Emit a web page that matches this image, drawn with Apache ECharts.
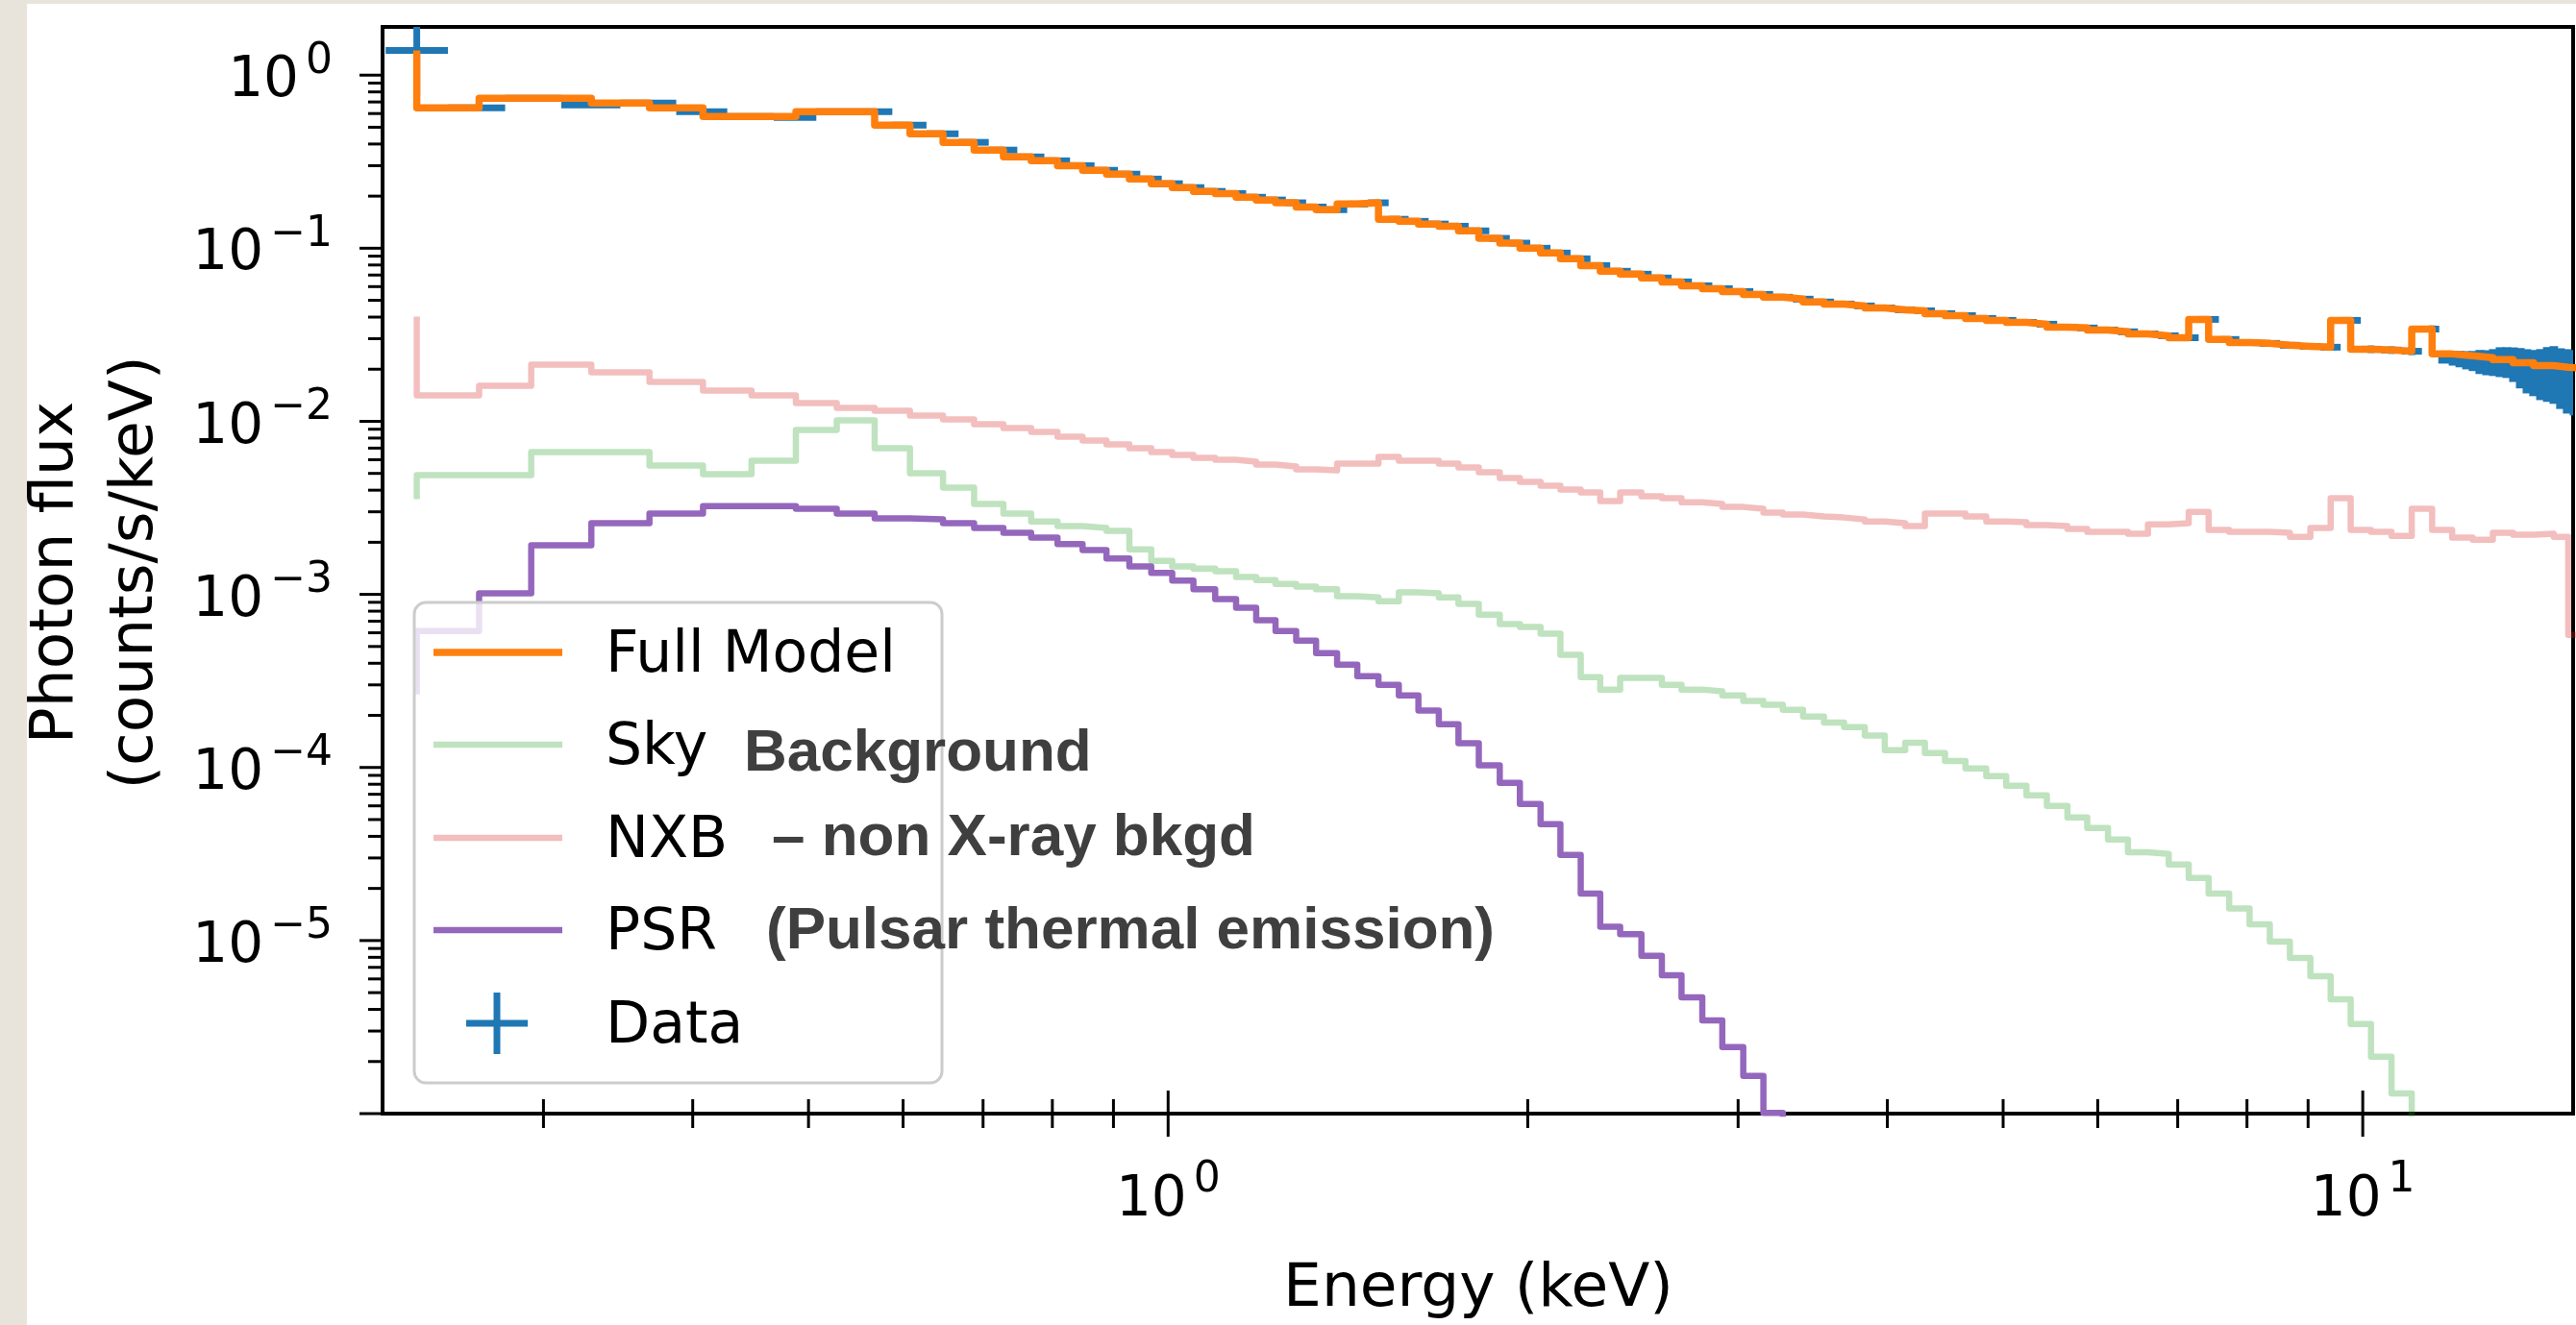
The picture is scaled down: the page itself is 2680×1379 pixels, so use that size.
<!DOCTYPE html>
<html><head><meta charset="utf-8">
<script src="https://cdn.jsdelivr.net/npm/echarts@6/dist/echarts.min.js"></script>
<style>
html,body{margin:0;padding:0;width:2680px;height:1379px;overflow:hidden;background:#e8e4db;}
#paper{position:absolute;left:28px;top:4px;right:0;bottom:0;background:#fff;}
#chart{position:absolute;left:0;top:0;width:2680px;height:1379px;}
</style></head><body>
<div id="paper"></div><div id="chart"></div>
<script>
// ---- model energy grid (keV): step positions of the binned model curves
const energy = [0.235,0.265,0.293,0.329,0.368,0.408,0.448,0.488,0.528,0.568,0.608,0.648,0.688,0.728,0.768,0.808,0.848,0.888,0.928,0.968,1.008,1.050,1.095,1.14,1.185,1.23,1.28,1.33,1.385,1.44,1.50,1.56,1.62,1.685,1.75,1.82,1.895,1.97,2.05,2.13,2.215,2.30,2.39,2.49,2.59,2.69,2.80,2.91,3.03,3.15,3.27,3.40,3.54,3.68,3.83,3.98,4.14,4.30,4.47,4.65,4.84,5.03,5.23,5.44,5.66,5.88,6.12,6.36,6.61,6.88,7.15,7.43,7.73,8.04,8.36,8.69,9.04,9.40,9.77,10.16,10.57,10.99,11.43,11.88,12.36,12.85,13.36,13.90,14.45,14.86,15.6];
// ---- series values (counts/s/keV)
const fullModel = [1.39,0.647,0.736,0.736,0.690,0.647,0.577,0.577,0.615,0.615,0.514,0.458,0.409,0.369,0.337,0.320,0.300,0.282,0.268,0.251,0.236,0.224,0.213,0.207,0.197,0.190,0.183,0.173,0.167,0.180,0.183,0.147,0.143,0.138,0.134,0.126,0.114,0.107,0.100,0.0938,0.0869,0.0794,0.0736,0.0708,0.0673,0.0639,0.0607,0.0584,0.0562,0.0541,0.0521,0.0508,0.0489,0.0476,0.0464,0.0452,0.0441,0.0435,0.0419,0.0408,0.0393,0.0383,0.0373,0.0364,0.0350,0.0346,0.0337,0.0329,0.0320,0.0312,0.0304,0.0388,0.0297,0.0285,0.0282,0.0275,0.0271,0.0268,0.0383,0.0261,0.0258,0.0254,0.0341,0.0245,0.0239,0.0233,0.0227,0.0218,0.0210,0.0205,0.0202];
const skyBkg = [0.00355,0.00489,0.00489,0.00664,0.00664,0.00555,0.00495,0.00592,0.00891,0.01013,0.00699,0.00501,0.00414,0.00333,0.00293,0.00264,0.00248,0.00242,0.00233,0.00182,0.00156,0.00145,0.00141,0.00136,0.00126,0.00121,0.00115,0.00111,0.00107,0.000975,0.000962,0.000914,0.001026,0.001013,0.000962,0.000880,0.000764,0.000673,0.000648,0.000592,0.000447,0.000333,0.000282,0.000329,0.000329,0.000300,0.000282,0.000275,0.000261,0.000242,0.000230,0.000215,0.000197,0.000182,0.000171,0.000153,0.000126,0.000139,0.000121,0.000109,9.87e-5,8.91e-5,7.84e-5,6.90e-5,5.99e-5,5.14e-5,4.47e-5,3.83e-5,3.24e-5,3.16e-5,2.75e-5,2.30e-5,1.87e-5,1.53e-5,1.24e-5,9.87e-6,7.94e-6,6.23e-6,4.58e-6,3.29e-6,2.13e-6,1.31e-6,7.17e-7,3.55e-7];
const nxb = [0.0403,0.01413,0.01605,0.02128,0.01920,0.01690,0.01506,0.01413,0.01275,0.01196,0.01151,0.01080,0.01026,0.00962,0.00914,0.00869,0.00815,0.00774,0.00736,0.00699,0.00664,0.00639,0.00615,0.00599,0.00584,0.00562,0.00548,0.00528,0.00521,0.00569,0.00569,0.00623,0.00592,0.00592,0.00569,0.00541,0.00508,0.00470,0.00447,0.00424,0.00403,0.00388,0.00346,0.00388,0.00369,0.00359,0.00341,0.00333,0.00320,0.00312,0.00297,0.00289,0.00282,0.00278,0.00271,0.00264,0.00258,0.00248,0.00293,0.00293,0.00282,0.00264,0.00261,0.00251,0.00248,0.00239,0.00230,0.00230,0.00224,0.00254,0.00258,0.00300,0.00236,0.00230,0.00230,0.00227,0.00215,0.00242,0.00359,0.00236,0.00230,0.00218,0.00312,0.00236,0.00213,0.00207,0.00227,0.00221,0.00224,0.00215,0.000584];
const psr = [0.000264,0.000615,0.001013,0.00192,0.00258,0.00293,0.00324,0.00324,0.00312,0.00293,0.00275,0.00271,0.00258,0.00242,0.00227,0.00213,0.00195,0.00180,0.00161,0.00145,0.00133,0.00120,0.00107,0.000938,0.000836,0.000708,0.000615,0.000541,0.000458,0.000393,0.000337,0.000300,0.000261,0.000213,0.000178,0.000138,0.000103,8.15e-5,6.15e-5,4.70e-5,3.12e-5,1.87e-5,1.20e-5,1.09e-5,8.15e-6,6.31e-6,4.70e-6,3.46e-6,2.42e-6,1.65e-6,1.01e-6,5.92e-7,3.12e-7];
// ---- observed data points (bin centres, flux, fractional error)
const dataEnergy = [0.235,0.265,0.293,0.329,0.368,0.408,0.448,0.488,0.528,0.568,0.608,0.648,0.688,0.728,0.768,0.808,0.848,0.888,0.928,0.968,1.008,1.050,1.095,1.14,1.185,1.23,1.28,1.33,1.385,1.44,1.50,1.56,1.62,1.685,1.75,1.82,1.895,1.97,2.05,2.13,2.215,2.30,2.39,2.49,2.59,2.69,2.80,2.91,3.03,3.15,3.27,3.40,3.54,3.68,3.83,3.98,4.14,4.30,4.47,4.65,4.84,5.03,5.23,5.44,5.66,5.88,6.12,6.36,6.61,6.88,7.15,7.43,7.73,8.04,8.36,8.69,9.04,9.40,9.77,10.16,10.57,10.99,11.43,
  11.75,11.90,12.06,12.21,12.37,12.53,12.70,12.86,13.03,13.20,13.37,13.55,13.72,13.90,14.09,14.27,14.45,14.64,14.83,15.03];
const dataFlux = [1.39,0.647,0.736,0.673,0.690,0.615,0.577,0.569,0.615,0.615,0.514,0.458,0.409,0.369,0.337,0.320,0.300,0.282,0.268,0.251,0.236,0.224,0.213,0.207,0.197,0.190,0.183,0.173,0.167,0.180,0.183,0.147,0.143,0.138,0.134,0.126,0.114,0.107,0.100,0.0938,0.0869,0.0794,0.0736,0.0708,0.0673,0.0639,0.0607,0.0584,0.0562,0.0541,0.0521,0.0508,0.0489,0.0476,0.0464,0.0452,0.0441,0.0435,0.0419,0.0408,0.0393,0.0383,0.0373,0.0364,0.0350,0.0346,0.0337,0.0329,0.0320,0.0312,0.0304,0.0388,0.0297,0.0285,0.0282,0.0275,0.0271,0.0268,0.0383,0.0261,0.0258,0.0254,0.0341,
  0.0235,0.0232,0.0230,0.0227,0.0225,0.0223,0.0221,0.0222,0.0224,0.0223,0.0218,0.0210,0.0203,0.0199,0.0197,0.0199,0.0199,0.0191,0.0186,0.0183];
const dataRelErr = [0.45,0.02,0.02,0.02,0.02,0.02,0.02,0.02,0.02,0.02,0.02,0.02,0.02,0.02,0.02,0.02,0.02,0.02,0.02,0.02,0.02,0.02,0.02,0.02,0.02,0.02,0.02,0.02,0.02,0.02,0.02,0.03,0.03,0.03,0.03,0.03,0.03,0.03,0.03,0.03,0.03,0.03,0.03,0.03,0.03,0.03,0.03,0.03,0.03,0.03,0.03,0.03,0.03,0.03,0.03,0.03,0.03,0.03,0.03,0.03,0.03,0.04,0.04,0.04,0.04,0.04,0.04,0.04,0.04,0.04,0.04,0.04,0.04,0.04,0.04,0.04,0.04,0.04,0.04,0.05,0.05,0.05,0.05,
  0.083,0.096,0.108,0.121,0.133,0.159,0.165,0.177,0.196,0.202,0.226,0.262,0.286,0.298,0.327,0.349,0.366,0.383,0.404,0.409];
// ---- axes
const xRange = [0.22, 15];
const yRange = [1e-6, 1.9];
const xMajorTicks = [1, 10];
const xMinorTicks = [0.3,0.4,0.5,0.6,0.7,0.8,0.9,2,3,4,5,6,7,8,9];
const yMajorTicks = [1e-6,1e-5,1e-4,1e-3,1e-2,1e-1,1];
const yMinorMantissa = [2,3,4,5,6,7,8,9];
const xTitle = 'Energy (keV)';
const yTitle = ['Photon flux', '(counts/s/keV)'];
const legendLabels = ['Full Model', 'Sky', 'NXB', 'PSR', 'Data'];
const notes = ['Background', '\u2013 non X-ray bkgd', '(Pulsar thermal emission)'];

const FONT = '"DejaVu Sans", sans-serif';
const BLUE = '#1f77b4', ORANGE = '#ff7f0e', GREEN = 'rgba(44,160,44,0.3)', RED = 'rgba(214,39,40,0.3)', PURPLE = '#9467bd';

function pairs(vals) { return vals.map((v, i) => [energy[i], v]); }
function expLabel(v, skipMin) {
  const lg = Math.log10(v), e = Math.round(lg);
  if (Math.abs(lg - e) > 1e-6) return '';
  if (skipMin && v < 1.5e-6) return '';
  const s = e < 0 ? '\u2212' + (-e) : String(e);
  return '{b|10}{s|' + s + '}';
}
const rich = {
  b: {fontFamily: FONT, fontSize: 58, padding: [14, 0, 0, 0], verticalAlign: 'bottom', color: '#000'},
  s: {fontFamily: FONT, fontSize: 44, lineHeight: 44, padding: [0, 0, 0, 7], verticalAlign: 'top', color: '#000'}
};

const errData = dataEnergy.map((e, i) => {
  const prev = i > 0 ? dataEnergy[i - 1] : e * e / dataEnergy[i + 1];
  const next = i < dataEnergy.length - 1 ? dataEnergy[i + 1] : e * e / dataEnergy[i - 1];
  const y = dataFlux[i], r = dataRelErr[i];
  return [e, y, Math.sqrt(prev * e), Math.sqrt(e * next), y * (1 - r), y * (1 + r)];
});
const xTickData = xMajorTicks.map(v => [v, yRange[0], 1]).concat(xMinorTicks.map(v => [v, yRange[0], 0]));
const yMinorTicks = [];
yMajorTicks.slice(0, -1).forEach(d => yMinorMantissa.forEach(m => yMinorTicks.push(m * d)));
const yTickData = yMajorTicks.map(v => [xRange[0], v, 1]).concat(yMinorTicks.map(v => [xRange[0], v, 0]));

const lineBase = {type: 'line', step: 'start', showSymbol: false, symbol: 'none', silent: true, animation: false, clip: true};

const legendRowY = [679, 775, 872, 968, 1065];
const legendColors = [ORANGE, GREEN, RED, PURPLE];
const legendWidths = [7.5, 6.5, 6.5, 6.5];
const graphics = [
  {type: 'text', x: 59, y: 596, rotation: Math.PI / 2, z: 100, style: {text: yTitle[0], fontFamily: FONT, fontSize: 63, fill: '#000', align: 'center', verticalAlign: 'middle'}},
  {type: 'text', x: 142, y: 596, rotation: Math.PI / 2, z: 100, style: {text: yTitle[1], fontFamily: FONT, fontSize: 63, fill: '#000', align: 'center', verticalAlign: 'middle'}},
  {type: 'text', x: 1538, y: 1343, z: 100, style: {text: xTitle, fontFamily: FONT, fontSize: 63, fill: '#000', align: 'center', verticalAlign: 'middle'}},
  {type: 'rect', z: 100, shape: {x: 431, y: 627, width: 549, height: 500, r: 12}, style: {fill: 'rgba(255,255,255,0.8)', stroke: '#cccccc', lineWidth: 3}}
];
legendColors.forEach((c, i) => {
  graphics.push({type: 'line', z: 101, shape: {x1: 451, y1: legendRowY[i], x2: 585, y2: legendRowY[i]}, style: {stroke: c, lineWidth: legendWidths[i]}});
});
graphics.push({type: 'line', z: 101, shape: {x1: 485, y1: 1065, x2: 549, y2: 1065}, style: {stroke: BLUE, lineWidth: 7}});
graphics.push({type: 'line', z: 101, shape: {x1: 517, y1: 1033, x2: 517, y2: 1097}, style: {stroke: BLUE, lineWidth: 7}});
legendLabels.forEach((t, i) => {
  graphics.push({type: 'text', x: 630, y: legendRowY[i] + 4, z: 101, style: {text: t, fontFamily: FONT, fontSize: 60, fill: '#000', align: 'left', verticalAlign: 'middle'}});
});
const notePos = [[774, 785], [803, 873], [797, 970]];
notes.forEach((t, i) => {
  graphics.push({type: 'text', x: notePos[i][0], y: notePos[i][1], z: 102, style: {text: t, fontFamily: '"Liberation Sans", Arial, sans-serif', fontWeight: 'bold', fontSize: 62, fill: '#3f3f3f', align: 'left', verticalAlign: 'middle'}});
});

const chart = echarts.init(document.getElementById('chart'), null, {renderer: 'canvas', width: 2680, height: 1379});
chart.setOption({
  animation: false,
  backgroundColor: 'transparent',
  grid: {left: 398, top: 28, right: 2, bottom: 220, show: true, backgroundColor: '#fff', borderColor: '#000', borderWidth: 4},
  xAxis: {
    type: 'log', logBase: 10, min: xRange[0], max: xRange[1],
    axisLine: {show: false}, axisTick: {show: false}, splitLine: {show: false}, minorTick: {show: false},
    axisLabel: {interval: 0, margin: 48, formatter: v => expLabel(v, false), rich: rich}
  },
  yAxis: {
    type: 'log', logBase: 10, min: yRange[0], max: yRange[1],
    axisLine: {show: false}, axisTick: {show: false}, splitLine: {show: false}, minorTick: {show: false},
    axisLabel: {interval: 0, margin: 52, formatter: v => expLabel(v, true), rich: rich}
  },
  series: [
    {type: 'custom', name: 'Data', coordinateSystem: 'cartesian2d', silent: true, z: 2, data: errData,
      renderItem: function (params, api) {
        const cs = params.coordSys;
        const x0 = cs.x, x1 = cs.x + cs.width, y0 = cs.y, y1 = cs.y + cs.height;
        const cl = (v, a, b) => Math.max(a, Math.min(b, v));
        const c = api.coord([api.value(0), api.value(1)]);
        const l = api.coord([api.value(2), api.value(1)]);
        const h = api.coord([api.value(3), api.value(1)]);
        const lo = api.coord([api.value(0), api.value(4)]);
        const hi = api.coord([api.value(0), api.value(5)]);
        const ch = [];
        if (c[1] >= y0 && c[1] <= y1) ch.push({type: 'line', shape: {x1: cl(l[0], x0, x1), y1: c[1], x2: cl(h[0], x0, x1), y2: c[1]}, style: {stroke: BLUE, lineWidth: 7}});
        const binW = h[0] - l[0];
        const ya = cl(hi[1], y0, y1), yb = cl(lo[1], y0, y1);
        if (binW < 14) {
          const xa = cl(l[0] - 1, x0, x1), xb = cl(h[0] + 1, x0, x1);
          if (xb > xa) ch.push({type: 'rect', shape: {x: xa, y: ya, width: xb - xa, height: yb - ya}, style: {fill: BLUE}});
        } else if (c[0] >= x0 && c[0] <= x1) {
          ch.push({type: 'line', shape: {x1: c[0], y1: ya, x2: c[0], y2: yb}, style: {stroke: BLUE, lineWidth: 7}});
        }
        return {type: 'group', children: ch};
      }},
    Object.assign({}, lineBase, {name: 'Sky', z: 3, data: pairs(skyBkg), lineStyle: {color: GREEN, width: 6.5, join: 'round'}}),
    Object.assign({}, lineBase, {name: 'NXB', z: 3, data: pairs(nxb), lineStyle: {color: RED, width: 6.5, join: 'round'}}),
    Object.assign({}, lineBase, {name: 'PSR', z: 3, data: pairs(psr), lineStyle: {color: PURPLE, width: 6.5, join: 'round'}}),
    Object.assign({}, lineBase, {name: 'Full Model', z: 4, data: pairs(fullModel), lineStyle: {color: ORANGE, width: 7.5, join: 'round'}}),
    {type: 'custom', name: 'xticks', coordinateSystem: 'cartesian2d', silent: true, clip: false, z: 6, data: xTickData,
      renderItem: function (params, api) {
        const cs = params.coordSys, p = api.coord([api.value(0), api.value(1)]);
        const len = api.value(2) ? 24 : 15, yb = cs.y + cs.height;
        return {type: 'line', shape: {x1: p[0], y1: yb - len, x2: p[0], y2: yb + len}, style: {stroke: '#000', lineWidth: 3}};
      }},
    {type: 'custom', name: 'yticks', coordinateSystem: 'cartesian2d', silent: true, clip: false, z: 6, data: yTickData,
      renderItem: function (params, api) {
        const cs = params.coordSys, p = api.coord([api.value(0), api.value(1)]);
        const len = api.value(2) ? 24 : 15;
        return {type: 'line', shape: {x1: cs.x - len, y1: p[1], x2: cs.x, y2: p[1]}, style: {stroke: '#000', lineWidth: 3}};
      }}
  ],
  graphic: graphics
});
</script></body></html>
